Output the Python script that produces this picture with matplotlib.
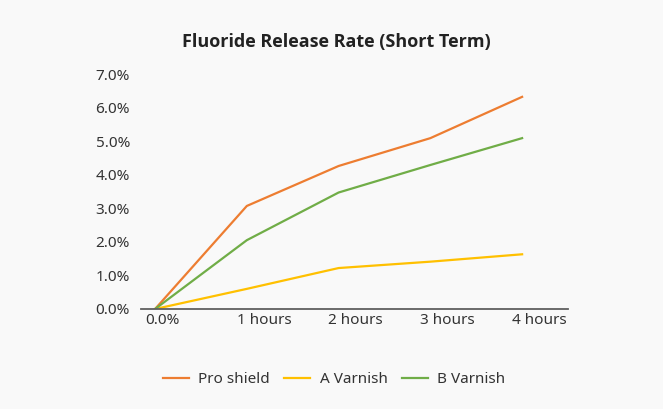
import matplotlib.pyplot as plt

plt.rcParams['font.family'] = ['Noto Sans', 'DejaVu Sans']

# Data
categories = ['0.0%', '1 hours', '2 hours', '3 hours', '4 hours']
pro_shield = [0.0, 3.07, 4.26, 5.09, 6.32]
a_varnish = [0.0, 0.60, 1.22, 1.41, 1.63]
b_varnish = [0.0, 2.05, 3.47, 4.29, 5.09]
y_ticks = [0, 1, 2, 3, 4, 5, 6, 7]

bg = '#f9f9f9'
fig = plt.figure(figsize=(6.63, 4.09), dpi=100, facecolor=bg)
ax = fig.add_axes([0.2127, 0.2445, 0.644, 0.5745], facecolor=bg)

x = list(range(len(categories)))
ax.plot(x, pro_shield, color='#ED7D31', lw=1.6, label='Pro shield')
ax.plot(x, a_varnish, color='#FFC000', lw=1.6, label='A Varnish')
ax.plot(x, b_varnish, color='#70AD47', lw=1.6, label='B Varnish')

ax.set_xlim(-0.153, 4.50)
ax.set_ylim(0, 7)

ax.set_yticks(y_ticks)
ax.set_yticklabels([f'{v:.1f}%' for v in y_ticks])
# category labels sit slightly left-aligned against each point
ax.set_xticks([i - 0.11 for i in x])
ax.set_xticklabels(categories, ha='left')

ax.tick_params(axis='both', length=0, labelsize=11, colors='#333333')
ax.tick_params(axis='x', pad=3)
ax.tick_params(axis='y', pad=8)

for side in ['top', 'right', 'left']:
    ax.spines[side].set_visible(False)
ax.spines['bottom'].set_color('#606060')
ax.spines['bottom'].set_linewidth(1.3)

fig.text(0.508, 0.897, 'Fluoride Release Rate (Short Term)', ha='center', va='center',
         fontsize=13, fontweight='bold', color='#222222',
         family=['Open Sans', 'Noto Sans CJK SC', 'DejaVu Sans'])

fig.legend(loc='center', bbox_to_anchor=(0.504, 0.071), ncol=3, frameon=False,
           fontsize=11, handlelength=1.7, columnspacing=0.95, handletextpad=0.6,
           labelcolor='#333333')

fig.savefig('out.png', dpi=100, facecolor=bg)
